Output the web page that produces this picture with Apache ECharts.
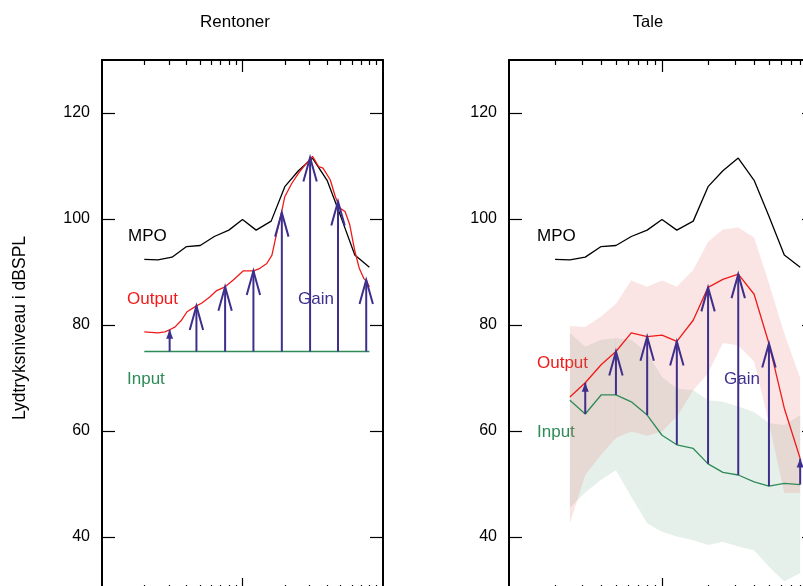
<!DOCTYPE html>
<html>
<head>
<meta charset="utf-8">
<script src="https://cdn.jsdelivr.net/npm/echarts@6/dist/echarts.min.js"></script>
<style>
  html, body { margin: 0; padding: 0; background: #fff; overflow: hidden; }
  #chart { width: 840px; height: 586px; }
</style>
</head>
<body>
<div id="chart"></div>
<script>
// MPO, same curve in both panels
const mpoFreq = [200, 250, 315, 400, 500, 630, 800, 1000, 1250, 1600, 2000, 2500, 3150, 4000, 5000, 6300, 8000];
const mpoLevel = [92.4, 92.3, 92.8, 94.8, 95.0, 96.7, 97.9, 99.9, 97.9, 99.6, 106.1, 109.1, 111.5, 107.3, 100.5, 93.2, 90.9];

// Rentoner (tones)
const toneInFreq = [200, 8000];
const toneInLevel = [75, 75];
const toneOutFreq = [200, 250, 280, 303, 330, 368, 403, 470, 511, 585, 655, 752, 860, 1010, 1200, 1330, 1490, 1620, 1750, 1900, 2000, 2240, 2500, 2790, 3150, 3480, 3740, 4210, 4580, 4960, 5370, 5800, 6270, 6780, 7290, 7650, 8000];
const toneOutLevel = [78.7, 78.5, 78.7, 79.1, 79.6, 80.9, 82.5, 83.6, 84.1, 85.3, 86.5, 87.2, 88.5, 90.2, 90.2, 90.7, 91.6, 93.2, 97.3, 101.4, 104.2, 106.7, 108.6, 110.2, 111.8, 109.9, 109.6, 107.4, 104.2, 102.0, 101.4, 98.9, 94.2, 90.7, 88.8, 88.2, 87.2];
const toneGainFreq = [303, 470, 752, 1196, 1905, 3027, 4784, 7596];
const toneGainTop = [79.1, 83.6, 87.2, 90.2, 101.2, 111.6, 103.3, 88.5];

// Tale (speech)
const speechFreq = [250, 315, 400, 500, 630, 800, 1000, 1250, 1600, 2000, 2500, 3150, 4000, 5000, 6300, 8000];
const speechOut = [66.4, 69.1, 72.5, 75.0, 78.5, 77.8, 78.1, 76.9, 80.9, 87.1, 88.6, 89.6, 85.8, 76.5, 64.3, 54.8];
const speechIn = [65.8, 63.2, 66.8, 66.8, 65.5, 63.0, 59.2, 57.4, 56.7, 53.8, 52.2, 51.7, 50.4, 49.6, 50.1, 49.9];
const outHi = [79.8, 79.6, 81.6, 84.0, 88.4, 87.2, 88.4, 87.2, 90.4, 95.7, 98.0, 98.4, 96.5, 87.9, 78.4, 70.0];
const outLo = [42.6, 51.7, 55.5, 58.7, 59.9, 59.1, 59.9, 62.7, 67.7, 70.9, 76.6, 76.2, 73.1, 61.5, 48.3, 48.3];
const inHi = [78.5, 75.9, 77.2, 77.5, 77.2, 74.7, 70.2, 68.0, 67.7, 65.8, 65.5, 64.6, 63.6, 61.5, 61.1, 63.0];
const inLo = [45.5, 48.4, 50.8, 52.6, 47.6, 42.6, 41.0, 40.1, 39.4, 38.5, 39.1, 38.2, 37.5, 34.4, 31.6, 33.2];
const speechGainFreq = [315, 500, 800, 1250, 2000, 3150, 5000, 8000];

// axis ticks
const yTicks = [40, 60, 80, 100, 120];
const minorFreqTicks = [200, 300, 400, 500, 600, 700, 800, 900, 2000, 3000, 4000, 5000, 6000, 7000, 8000, 9000];
const majorFreqTicks = [1000];

const FONT = '"Liberation Sans", Arial, sans-serif';
const RED = '#f01a1a';
const GREEN = '#2e8b57';
const PURPLE = '#3f2f8c';

const lg = Math.log10;
const pts = (f, v) => f.map((x, i) => [lg(x), v[i]]);

function xAxesFor(grid) {
  const base = {
    gridIndex: grid, type: 'value', min: 2, max: 4,
    axisLabel: { show: false }, splitLine: { show: false }
  };
  const minor = { show: true, inside: true, length: 5, customValues: minorFreqTicks.map(lg), lineStyle: { color: '#000', width: 1.2 } };
  const major = { show: true, inside: true, length: 12, customValues: majorFreqTicks.map(lg), lineStyle: { color: '#000', width: 1.2 } };
  const line = { show: true, onZero: false, lineStyle: { color: '#000', width: 2 } };
  return [
    Object.assign({}, base, { position: 'bottom', axisLine: line, axisTick: minor }),
    Object.assign({}, base, { position: 'top', axisLine: line, axisTick: minor }),
    Object.assign({}, base, { position: 'bottom', axisLine: { show: false }, axisTick: major }),
    Object.assign({}, base, { position: 'top', axisLine: { show: false }, axisTick: major })
  ];
}

function yAxesFor(grid) {
  const base = { gridIndex: grid, type: 'value', min: 30, max: 130, splitLine: { show: false } };
  const tick = { show: true, inside: true, length: 13, customValues: yTicks, lineStyle: { color: '#000', width: 1.2 } };
  const line = { show: true, onZero: false, lineStyle: { color: '#000', width: 2 } };
  return [
    Object.assign({}, base, {
      position: 'left', axisLine: line, axisTick: tick,
      axisLabel: { show: true, customValues: yTicks, margin: 12, color: '#000', fontSize: 16, fontFamily: FONT }
    }),
    Object.assign({}, base, { position: 'right', axisLine: line, axisTick: tick, axisLabel: { show: false } })
  ];
}

function lineSeries(xi, yi, data, color) {
  return {
    type: 'line', xAxisIndex: xi, yAxisIndex: yi, data: data,
    showSymbol: false, symbol: 'none', z: 4, silent: true,
    lineStyle: { color: color, width: 1.3 }
  };
}

function bandSeries(xi, yi, freq, lo, hi, color) {
  return {
    type: 'custom', xAxisIndex: xi, yAxisIndex: yi, z: 1, silent: true,
    data: freq.slice(0, -1).map((f, i) => [lg(f), lo[i], i]),
    renderItem: function (params, api) {
      const i = api.value(2);
      const a = lg(freq[i]), b = lg(freq[i + 1]);
      const poly = [api.coord([a, hi[i]]), api.coord([b, hi[i + 1]]), api.coord([b, lo[i + 1]]), api.coord([a, lo[i]])];
      return { type: 'polygon', shape: { points: poly }, style: { fill: color } };
    }
  };
}

function arrowSeries(xi, yi, data) {
  return {
    type: 'custom', xAxisIndex: xi, yAxisIndex: yi, z: 5, silent: true,
    data: data,
    renderItem: function (params, api) {
      const p0 = api.coord([api.value(0), api.value(1)]);
      const p1 = api.coord([api.value(0), api.value(2)]);
      const len = p0[1] - p1[1];
      const kids = [{
        type: 'line', shape: { x1: p0[0], y1: p0[1], x2: p1[0], y2: p1[1] },
        style: { stroke: PURPLE, lineWidth: 2 }
      }];
      if (len > 38) {
        kids.push({
          type: 'polyline',
          shape: { points: [[p1[0] - 6.7, p1[1] + 24], [p1[0], p1[1]], [p1[0] + 6.7, p1[1] + 24]] },
          style: { stroke: PURPLE, lineWidth: 2, fill: 'none' }
        });
      } else {
        kids.push({
          type: 'polygon',
          shape: { points: [[p1[0] - 3.5, p1[1] + 9], [p1[0], p1[1]], [p1[0] + 3.5, p1[1] + 9]] },
          style: { fill: PURPLE }
        });
      }
      return { type: 'group', children: kids };
    }
  };
}

function text(str, x, y, color, size, align, rot) {
  return {
    type: 'text', x: x, y: y, silent: true, rotation: rot || 0,
    style: {
      text: str, fill: color, fontSize: size, fontFamily: FONT,
      align: align, verticalAlign: 'middle', textAlign: align, textVerticalAlign: 'middle'
    }
  };
}

const toneArrows = toneGainFreq.map((f, i) => [lg(f), 75, toneGainTop[i]]);
const speechArrows = speechGainFreq.map(f => {
  const k = speechFreq.indexOf(f);
  return [lg(f), speechIn[k], speechOut[k]];
});

const chart = echarts.init(document.getElementById('chart'), null, { renderer: 'canvas' });
chart.setOption({
  animation: false,
  backgroundColor: '#fff',
  grid: [
    { left: 102, top: 60, width: 281, height: 530, outerBoundsMode: 'none', containLabel: false },
    { left: 509, top: 60, width: 306, height: 530, outerBoundsMode: 'none', containLabel: false }
  ],
  xAxis: xAxesFor(0).concat(xAxesFor(1)),
  yAxis: yAxesFor(0).concat(yAxesFor(1)),
  series: [
    // Rentoner
    lineSeries(0, 0, pts(mpoFreq, mpoLevel), '#000'),
    lineSeries(0, 0, pts(toneOutFreq, toneOutLevel), RED),
    lineSeries(0, 0, pts(toneInFreq, toneInLevel), GREEN),
    arrowSeries(0, 0, toneArrows),
    // Tale
    bandSeries(4, 2, speechFreq, inLo, inHi, 'rgba(60,140,90,0.13)'),
    bandSeries(4, 2, speechFreq, outLo, outHi, 'rgba(235,110,110,0.19)'),
    lineSeries(4, 2, pts(mpoFreq, mpoLevel), '#000'),
    lineSeries(4, 2, pts(speechFreq, speechOut), RED),
    lineSeries(4, 2, pts(speechFreq, speechIn), GREEN),
    arrowSeries(4, 2, speechArrows)
  ],
  graphic: [
    text('Rentoner', 235, 22, '#000', 17, 'center'),
    text('Tale', 648, 22, '#000', 16.5, 'center'),
    text('Lydtryksniveau i dBSPL', 20, 328, '#000', 17.5, 'center', Math.PI / 2),
    text('MPO', 128, 236, '#000', 17, 'left'),
    text('Output', 127, 299, RED, 17, 'left'),
    text('Gain', 298, 299, PURPLE, 17, 'left'),
    text('Input', 127, 379, GREEN, 17, 'left'),
    text('MPO', 537, 236, '#000', 17, 'left'),
    text('Output', 537, 363, RED, 17, 'left'),
    text('Input', 537, 432, GREEN, 17, 'left'),
    text('Gain', 724, 379, PURPLE, 17, 'left')
  ]
});
</script>
</body>
</html>
